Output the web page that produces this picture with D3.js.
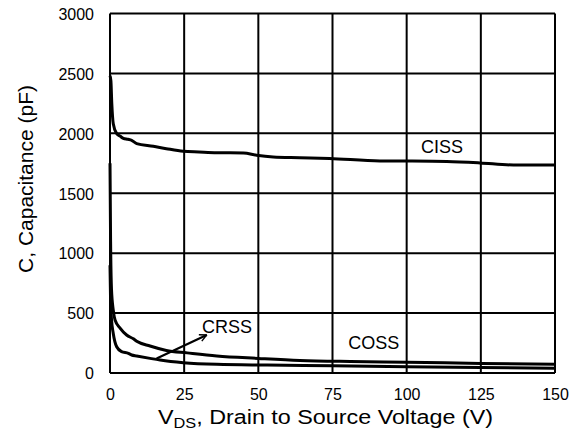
<!DOCTYPE html>
<html><head><meta charset="utf-8">
<script src="https://cdn.jsdelivr.net/npm/d3@7"></script>
<style>
html,body{margin:0;padding:0;background:#fff;}
svg{display:block;font-family:"Liberation Sans",Arial,sans-serif;}
</style></head>
<body><svg id="c" width="573" height="434"></svg>
<script>
// ---- data ----
const xTicks = [0, 25, 50, 75, 100, 125, 150];
const yTicks = [0, 500, 1000, 1500, 2000, 2500, 3000];

const vdsCiss = [0, 0.3, 0.6, 1.1, 2.2, 3.5, 4.5, 6, 7.3, 9, 14.6, 19, 24.7, 30, 36, 45, 49.4, 55, 64, 74, 91, 100, 113.5, 124.7, 136, 150];
const ciss    = [2480, 2440, 2250, 2080, 2000, 1975, 1958, 1950, 1942, 1914, 1892, 1872, 1850, 1844, 1838, 1836, 1817, 1803, 1797, 1790, 1770, 1769, 1765, 1753, 1736, 1735];

const vdsCoss = [0, 0.2, 0.5, 1.1, 1.7, 3.4, 5.6, 7.9, 9, 13.5, 19, 26, 36, 50, 64, 81, 100, 125, 150];
const coss    = [1750, 1100, 700, 525, 442, 375, 317, 285, 265, 225, 188, 168, 142, 122, 105, 96, 90, 80, 72];

const vdsCrss = [0, 0.2, 0.5, 1.1, 2.25, 3.9, 6.2, 7.3, 9, 13.5, 16.9, 24.7, 36, 53, 75, 100, 125, 150];
const crss    = [900, 600, 450, 330, 219, 178, 164, 150, 142, 122, 108, 86, 72, 66, 60, 53, 46, 40];

const seriesNames = ["CISS", "COSS", "CRSS"];

// ---- chart ----
const svg = d3.select("#c");
const x = d3.scaleLinear().domain([0, 150]).range([110, 555]);
const y = d3.scaleLinear().domain([0, 3000]).range([373, 13.5]);

// grid
const g = svg.append("g");
g.selectAll("line.v").data(xTicks).join("line")
  .attr("x1", d => x(d)).attr("x2", d => x(d))
  .attr("y1", y(0)).attr("y2", y(3000))
  .attr("stroke", "#000").attr("stroke-width", 2);
g.selectAll("line.h").data(yTicks).join("line")
  .attr("y1", d => y(d)).attr("y2", d => y(d))
  .attr("x1", x(0)).attr("x2", x(150))
  .attr("stroke", "#000").attr("stroke-width", 2);

// axes labels (tick text)
const fmt = d3.format("d");
const xAxis = d3.axisBottom(x).tickValues(xTicks).tickFormat(fmt).tickSize(0).tickPadding(0);
const xa = svg.append("g").attr("transform", `translate(0,${y(0)})`).call(xAxis);
xa.select(".domain").remove();
xa.selectAll("text").attr("font-size", 16).attr("fill", "#000")
  .attr("y", 27).attr("dy", 0).attr("font-family", "Liberation Sans, Arial, sans-serif");

const yAxis = d3.axisLeft(y).tickValues(yTicks).tickFormat(fmt).tickSize(0).tickPadding(0);
const ya = svg.append("g").attr("transform", `translate(${x(0)},0)`).call(yAxis);
ya.select(".domain").remove();
ya.selectAll("text").attr("font-size", 16).attr("fill", "#000")
  .attr("x", -16).attr("dy", "0.36em").attr("font-family", "Liberation Sans, Arial, sans-serif");

// curves
const line = d3.line().x(d => x(d[0])).y(d => y(d[1])).curve(d3.curveMonotoneX);
const series = [
  d3.zip(vdsCiss, ciss),
  d3.zip(vdsCoss, coss),
  d3.zip(vdsCrss, crss)
];
svg.append("g").selectAll("path").data(series).join("path")
  .attr("d", line).attr("fill", "none").attr("stroke", "#000")
  .attr("stroke-width", 3).attr("stroke-linejoin", "round");

// labels
const lab = svg.append("g").attr("font-size", 18).attr("fill", "#000");
lab.append("text").attr("x", x(104.8)).attr("y", y(1833)).text(seriesNames[0]);
lab.append("text").attr("x", x(80.3)).attr("y", y(200)).text(seriesNames[1]);
lab.append("text").attr("x", x(31)).attr("y", y(333)).text(seriesNames[2]);

// arrow
svg.append("defs").append("marker").attr("id", "ah")
  .attr("viewBox", "0 0 10 10").attr("refX", 9).attr("refY", 5)
  .attr("markerWidth", 4).attr("markerHeight", 4).attr("orient", "auto")
  .attr("markerUnits", "strokeWidth")
  .append("path").attr("d", "M1,1 L9,5 L1,9").attr("fill", "none")
  .attr("stroke", "#000").attr("stroke-width", 1.6);
svg.append("line")
  .attr("x1", x(15.7)).attr("y1", y(122)).attr("x2", x(32.6)).attr("y2", y(317))
  .attr("stroke", "#000").attr("stroke-width", 2.2).attr("marker-end", "url(#ah)");

// axis titles
const xt = svg.append("text").attr("x", 158).attr("y", 424).attr("font-size", 20).attr("fill", "#000");
xt.append("tspan").text("V");
xt.append("tspan").attr("font-size", 14).attr("dy", 4).text("DS");
xt.append("tspan").attr("dy", -4).text(", Drain to Source Voltage (V)");
xt.attr("textLength", 335).attr("lengthAdjust", "spacingAndGlyphs");

svg.append("text").attr("transform", "translate(33,179) rotate(-90)")
  .attr("text-anchor", "middle").attr("font-size", 21).attr("fill", "#000")
  .text("C, Capacitance (pF)");
</script></body></html>
